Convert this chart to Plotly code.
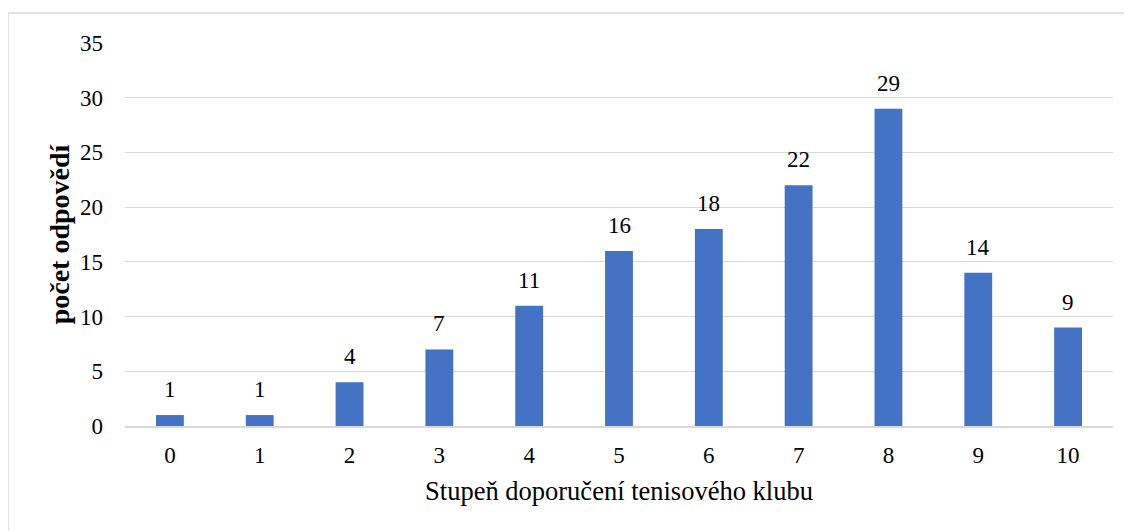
import plotly.graph_objects as go

categories = ["0", "1", "2", "3", "4", "5", "6", "7", "8", "9", "10"]
values = [1, 1, 4, 7, 11, 16, 18, 22, 29, 14, 9]
y_ticks = [0, 5, 10, 15, 20, 25, 30, 35]

FONT = "Liberation Serif, Times New Roman, serif"
# page is offset by the browser's 8px body margin
W, H = 1132, 531
L, R, T, B = 117, 27, 35, 113
pw, ph = W - L - R, H - T - B

fig = go.Figure(go.Bar(
    x=categories, y=values,
    marker=dict(color="#4472C4", line=dict(width=0)),
    width=0.31,
    cliponaxis=False,
))

annotations = [
    dict(x=c, y=v, xref="x", yref="y", text=str(v), showarrow=False,
         yanchor="bottom", yshift=11,
         font=dict(family=FONT, size=23, color="#000000"))
    for c, v in zip(categories, values)
]

fig.update_layout(
    width=W, height=H,
    margin=dict(l=L, r=R, t=T, b=B, pad=0),
    paper_bgcolor="white", plot_bgcolor="white",
    font=dict(family=FONT, size=23, color="#000000"),
    showlegend=False,
    xaxis=dict(
        type="category",
        showgrid=False, showline=True, linecolor="#d9d9d9", linewidth=2,
        ticks="", ticklabelstandoff=7,
        tickfont=dict(family=FONT, size=23),
        title=dict(text="Stupeň doporučení tenisového klubu",
                   font=dict(family=FONT, size=26.5), standoff=15),
        zeroline=False,
    ),
    yaxis=dict(
        range=[0, 35], tickvals=y_ticks,
        showgrid=True, gridcolor="#d9d9d9", gridwidth=1,
        showline=False, zeroline=False,
        ticks="", ticklabelstandoff=21,
        tickfont=dict(family=FONT, size=23),
        title=dict(text="<b>počet odpovědí</b>",
                   font=dict(family=FONT, size=28), standoff=2),
    ),
    annotations=annotations,
    shapes=[dict(
        type="rect", xref="paper", yref="paper",
        x0=(0 - L) / pw, x1=(W + 5 - L) / pw,
        y0=((H - B) - (H + 5)) / ph, y1=((H - B) - 5) / ph,
        line=dict(color="#d9d9d9", width=1.5), fillcolor="rgba(0,0,0,0)",
        layer="below",
    )],
)

fig.write_html("out.html")
